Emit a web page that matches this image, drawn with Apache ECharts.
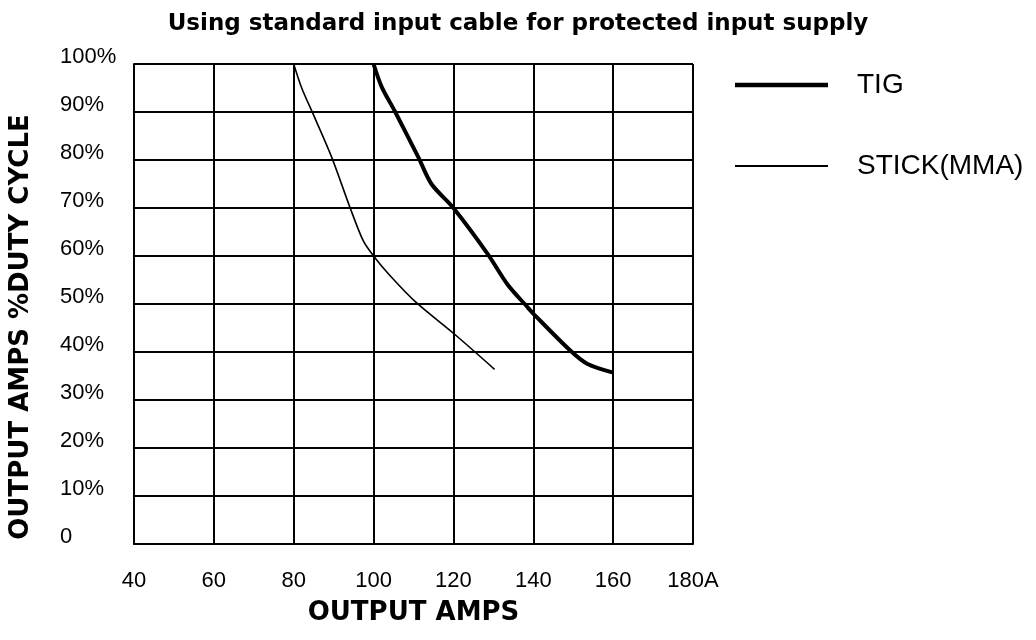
<!DOCTYPE html>
<html>
<head>
<meta charset="utf-8">
<script src="https://cdn.jsdelivr.net/npm/echarts@6/dist/echarts.min.js"></script>
<style>html,body{margin:0;padding:0;background:#fff}#c{width:1036px;height:640px}</style>
</head>
<body>
<div id="c"></div>
<script>
const chartTitle = 'Using standard input cable for protected input supply';
const xTickLabels = ['40', '60', '80', '100', '120', '140', '160', '180A'];
const yTickLabels = ['0', '10%', '20%', '30%', '40%', '50%', '60%', '70%', '80%', '90%', '100%'];
const seriesNames = ['TIG', 'STICK(MMA)'];
const tigAmps = [100, 102, 105.3, 111.2, 114.5, 120, 128.6, 133.6, 138.6, 140, 149.4, 153.6, 160];
const tigDuty = [100, 95.3, 90.2, 80.6, 75, 70, 60.4, 54, 49.3, 48, 40.2, 37.5, 35.7];
const stickAmps = [80, 82, 84.9, 89.5, 94.1, 97.4, 100, 103.7, 110.3, 120.3, 130.3];
const stickDuty = [100, 95, 89.5, 80.6, 70.1, 63.2, 60, 56.3, 50.6, 43.7, 36.4];

const pair = (xs, ys) => xs.map((x, i) => [x, ys[i]]);
const chart = echarts.init(document.getElementById('c'), null, {renderer: 'canvas'});
const boldFont = '"DejaVu Sans", sans-serif';
const regFont = '"Liberation Sans", Arial, sans-serif';
const legendText = {fontFamily: regFont, fontSize: 28, color: '#000', lineHeight: 30, padding: [0, 0, 0, 24]};
chart.setOption({
  animation: false,
  backgroundColor: '#fff',
  title: {
    text: chartTitle, left: 'center', top: 8,
    textStyle: {fontFamily: boldFont, fontWeight: 'bold', fontSize: 23, color: '#000'}
  },
  legend: [
    {
      orient: 'vertical', left: 730, top: 65, itemWidth: 93, itemHeight: 4.5, icon: 'rect',
      data: [seriesNames[0]], textStyle: legendText
    },
    {
      orient: 'vertical', left: 730, top: 146, itemWidth: 93, itemHeight: 1.8, icon: 'rect',
      data: [seriesNames[1]], textStyle: legendText
    }
  ],
  grid: {left: 131, right: 343, top: 64, bottom: 96, show: false},
  xAxis: {
    type: 'value', min: 40, max: 180, interval: 20,
    name: 'OUTPUT AMPS', nameLocation: 'middle', nameGap: 56, nameMoveOverlap: false,
    nameTextStyle: {fontFamily: boldFont, fontWeight: 'bold', fontSize: 26, color: '#000'},
    axisLine: {show: true, lineStyle: {color: '#000', width: 2}},
    axisTick: {show: false},
    axisLabel: {
      margin: 26, fontFamily: regFont, fontSize: 22, color: '#000',
      formatter: v => xTickLabels[Math.round((v - 40) / 20)]
    },
    splitLine: {show: true, lineStyle: {color: '#000', width: 2}}
  },
  yAxis: {
    type: 'value', min: 0, max: 100, interval: 10,
    name: 'OUTPUT AMPS %DUTY CYCLE', nameLocation: 'middle', nameGap: 100, nameRotate: 90,
    nameTextStyle: {fontFamily: boldFont, fontWeight: 'bold', fontSize: 26, color: '#000', padding: [0, 46, 0, 0]},
    axisLine: {show: true, lineStyle: {color: '#000', width: 2}},
    axisTick: {show: false},
    axisLabel: {
      margin: 74, align: 'left', verticalAlign: 'bottom', lineHeight: 14,
      fontFamily: regFont, fontSize: 22, color: '#000',
      formatter: v => yTickLabels[Math.round(v / 10)]
    },
    splitLine: {show: true, lineStyle: {color: '#000', width: 2}}
  },
  series: [
    {
      name: seriesNames[0], type: 'line', data: pair(tigAmps, tigDuty),
      symbol: 'none', smooth: 0.3, color: '#000',
      lineStyle: {color: '#000', width: 4}
    },
    {
      name: seriesNames[1], type: 'line', data: pair(stickAmps, stickDuty),
      symbol: 'none', smooth: 0.3, color: '#000',
      lineStyle: {color: '#000', width: 1.6}
    }
  ]
});
</script>
</body>
</html>
